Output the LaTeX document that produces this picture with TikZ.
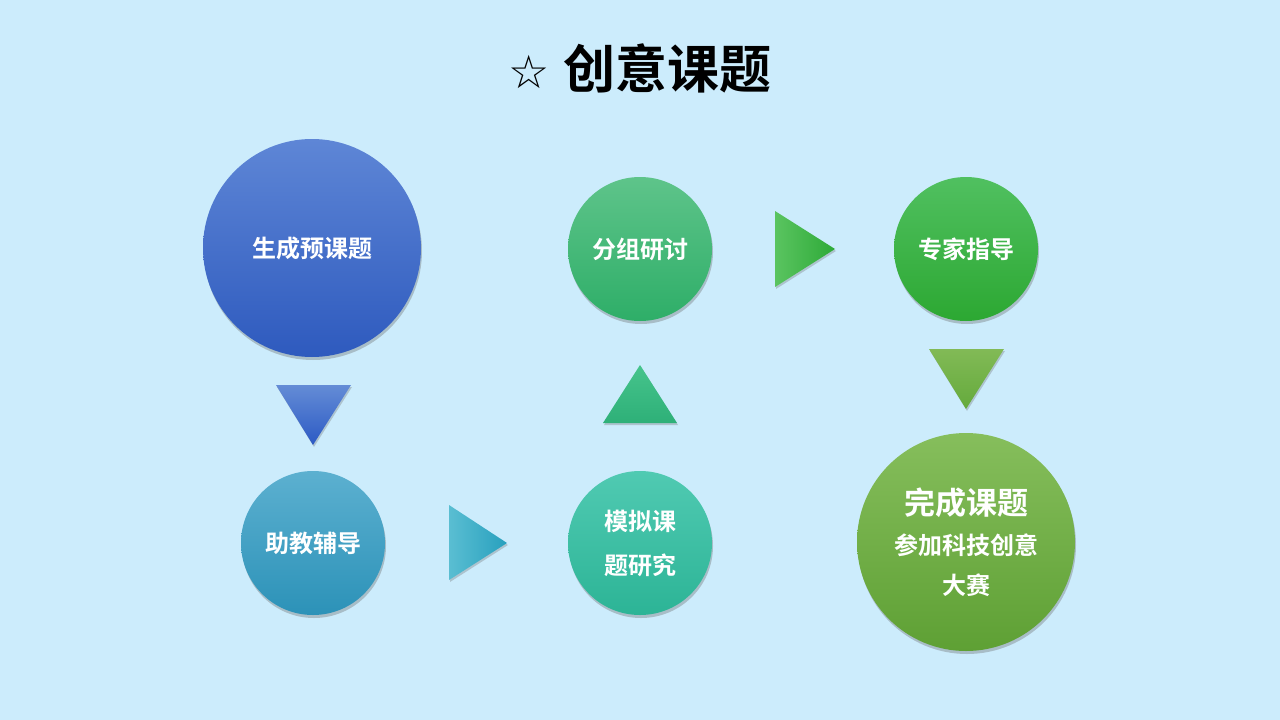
\documentclass[tikz,border=0pt]{standalone}
\usepackage{fontspec}
\newfontfamily\cjk{Noto Sans CJK SC}[BoldFont={* Bold}]
\newfontfamily\djsym{DejaVu Sans}
\usetikzlibrary{shadows}
\begin{document}
\begin{tikzpicture}[x=1pt,y=-1pt,
  circ/.style={circle,inner sep=0pt,text=white,font=\cjk\bfseries\fontsize{24}{30}\selectfont,align=center,
    drop shadow={shadow xshift=1pt,shadow yshift=-3pt,opacity=0.35,fill=black!60}},
  tri/.style={drop shadow={shadow xshift=1pt,shadow yshift=-2pt,opacity=0.3,fill=black!60}}]
\fill[color={rgb,255:red,204;green,236;blue,252}] (0,0) rectangle (1280,720);
\node (title) at (640,68) {{\djsym\fontsize{46}{50}\selectfont ☆}\hspace{14pt}{\cjk\bfseries\fontsize{52}{56}\selectfont 创意课题}};
\node[circ,minimum size=218pt,top color={rgb,255:red,94;green,134;blue,214},bottom color={rgb,255:red,46;green,90;blue,190}] (a) at (312,248) {生成预课题};
\node[circ,minimum size=144pt,top color={rgb,255:red,92;green,176;blue,208},bottom color={rgb,255:red,44;green,146;blue,184}] (b) at (313,543) {助教辅导};
\node[circ,minimum size=144pt,top color={rgb,255:red,80;green,202;blue,178},bottom color={rgb,255:red,44;green,180;blue,150}] (c) at (640,543) {模拟课\\[14pt]题研究};
\node[circ,minimum size=144pt,top color={rgb,255:red,94;green,196;blue,138},bottom color={rgb,255:red,46;green,174;blue,104}] (d) at (640,249) {分组研讨};
\node[circ,minimum size=144pt,top color={rgb,255:red,80;green,192;blue,96},bottom color={rgb,255:red,44;green,168;blue,50}] (e) at (966,249) {专家指导};
\node[circ,minimum size=218pt,top color={rgb,255:red,134;green,190;blue,92},bottom color={rgb,255:red,94;green,160;blue,52}] (f) at (966,542) {};
\node[white,font=\cjk\bfseries\fontsize{24}{30}\selectfont,align=center] (ft) at (f.center) {{\fontsize{31}{36}\selectfont 完成课题}\\[10pt]参加科技创意\\[10pt]大赛};
\shade[tri,top color={rgb,255:red,100;green,140;blue,214},bottom color={rgb,255:red,44;green,90;blue,196}] (276,385)--(351,385)--(313,445)--cycle;
\shade[tri,left color={rgb,255:red,90;green,190;blue,210},right color={rgb,255:red,40;green,160;blue,190}] (449,505)--(449,580)--(507,543)--cycle;
\shade[tri,top color={rgb,255:red,70;green,196;blue,140},bottom color={rgb,255:red,46;green,176;blue,120}] (603,423)--(677,423)--(640,365)--cycle;
\shade[tri,left color={rgb,255:red,90;green,196;blue,96},right color={rgb,255:red,46;green,170;blue,56}] (775,211)--(775,287)--(835,249)--cycle;
\shade[tri,top color={rgb,255:red,130;green,186;blue,86},bottom color={rgb,255:red,100;green,170;blue,60}] (929,349)--(1004,349)--(966,409)--cycle;
\end{tikzpicture}
\end{document}
